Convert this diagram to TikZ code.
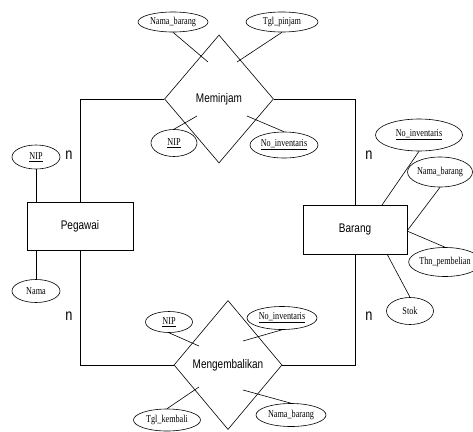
\documentclass[tikz,border=0pt]{standalone}
\usepackage{fontspec}
\usepackage{graphicx}
\usetikzlibrary{shapes.geometric}
\setmainfont{Liberation Serif}
\setsansfont{Liberation Sans}
\newcommand{\atxt}[1]{\scalebox{0.78}[1]{#1}}
\newcommand{\etxt}[1]{\scalebox{0.8}[1]{#1}}
\tikzset{
  attr/.style={draw,ellipse,inner sep=0pt,font=\rmfamily\fontsize{10.5}{12}\selectfont},
  ent/.style={draw,rectangle,inner sep=0pt,font=\sffamily\fontsize{12.5}{14}\selectfont},
  rel/.style={draw,diamond,inner sep=2pt,font=\sffamily\fontsize{12.5}{14}\selectfont},
  card/.style={inner sep=0pt,font=\sffamily\fontsize{16}{18}\selectfont}
}

\begin{document}
\begin{tikzpicture}[x=1pt,y=-1pt,line width=0.6pt]
  \useasboundingbox (0,0) rectangle (473,431);
  % relationships and entities
  \node (r1) at (219,99) [rel,minimum width=109pt,minimum height=128pt] {\etxt{Meminjam}};
  \node (r2) at (228,365) [rel,minimum width=108pt,minimum height=129pt] {\etxt{Mengembalikan}};
  \node (e1) at (80,226) [ent,minimum width=106pt,minimum height=48pt] {\etxt{Pegawai}};
  \node (e2) at (355,229.5) [ent,minimum width=104pt,minimum height=49pt] {\etxt{Barang}};
  % attributes of Meminjam
  \node (a1) at (173,22) [attr,minimum width=70pt,minimum height=20pt] {\atxt{Nama\_barang}};
  \node (a2) at (282,22) [attr,minimum width=72pt,minimum height=20pt] {\atxt{Tgl\_pinjam}};
  \node (a3) at (174,143) [attr,minimum width=46pt,minimum height=27pt] {\atxt{\underline{NIP}}};
  \node (a4) at (284,145) [attr,minimum width=68pt,minimum height=26pt] {\atxt{\underline{No\_inventaris}}};
  % attributes of Pegawai
  \node (a5) at (36,157) [attr,minimum width=48pt,minimum height=24pt] {\atxt{\underline{NIP}}};
  \node (a6) at (36,291) [attr,minimum width=48pt,minimum height=23pt] {\atxt{Nama}};
  % attributes of Mengembalikan
  \node (a7) at (169,322) [attr,minimum width=47pt,minimum height=21pt] {\atxt{\underline{NIP}}};
  \node (a8) at (282,318) [attr,minimum width=70pt,minimum height=23pt] {\atxt{\underline{No\_inventaris}}};
  \node (a9) at (167,420) [attr,minimum width=67pt,minimum height=22pt] {\atxt{Tgl\_kembali}};
  \node (a10) at (291,415) [attr,minimum width=70pt,minimum height=23pt] {\atxt{Nama\_barang}};
  % attributes of Barang
  \node (a11) at (419,135) [attr,minimum width=87pt,minimum height=32pt] {\atxt{\underline{No\_inventaris}}};
  \node (a12) at (440,172) [attr,minimum width=65pt,minimum height=30pt] {\atxt{Nama\_barang}};
  \node (a13) at (445,262) [attr,minimum width=66pt,minimum height=29pt] {\atxt{Thn\_pembelian}};
  \node (a14) at (410,311) [attr,minimum width=47pt,minimum height=27pt] {\atxt{Stok}};
  % cardinalities
  \node (n1) at (69,155) [card] {\etxt{n}};
  \node (n2) at (69,316) [card] {\etxt{n}};
  \node (n3) at (369,155) [card] {\etxt{n}};
  \node (n4) at (369,316) [card] {\etxt{n}};
  % free ends of the attribute lines
  \coordinate (p1) at (208,62);
  \coordinate (p2) at (237,62);
  \coordinate (p3) at (197,116);
  \coordinate (p4) at (247,116);
  \coordinate (k1) at (199,346);
  \coordinate (k2) at (243,341);
  \coordinate (k3) at (199,387);
  \coordinate (k4) at (243,390);
  \coordinate (b1) at (382,205);
  \coordinate (b2) at (407,231);
  \coordinate (b3) at (387,254);
  % relationship lines
  \draw (r1.west) -| (e1.north);
  \draw (r1.east) -| (e2.north);
  \draw (r2.west) -| (e1.south);
  \draw (r2.east) -| (e2.south);
  % attribute lines
  \draw (a1.south) -- (p1);
  \draw (a2.south) -- (p2);
  \draw (a3.north) -- (p3);
  \draw (a4.north) -- (p4);
  \draw (a5.south) -- (a5.south |- e1.north);
  \draw (a6.north) -- (a6.north |- e1.south);
  \draw (a7.south) -- (k1);
  \draw (a8.south) -- (k2);
  \draw (a9.north) -- (k3);
  \draw (a10.north) -- (k4);
  \draw (a11.south) -- (b1);
  \draw (a12.south) -- (b2);
  \draw (a13.north) -- (b2);
  \draw (a14.north) -- (b3);
\end{tikzpicture}
\end{document}
